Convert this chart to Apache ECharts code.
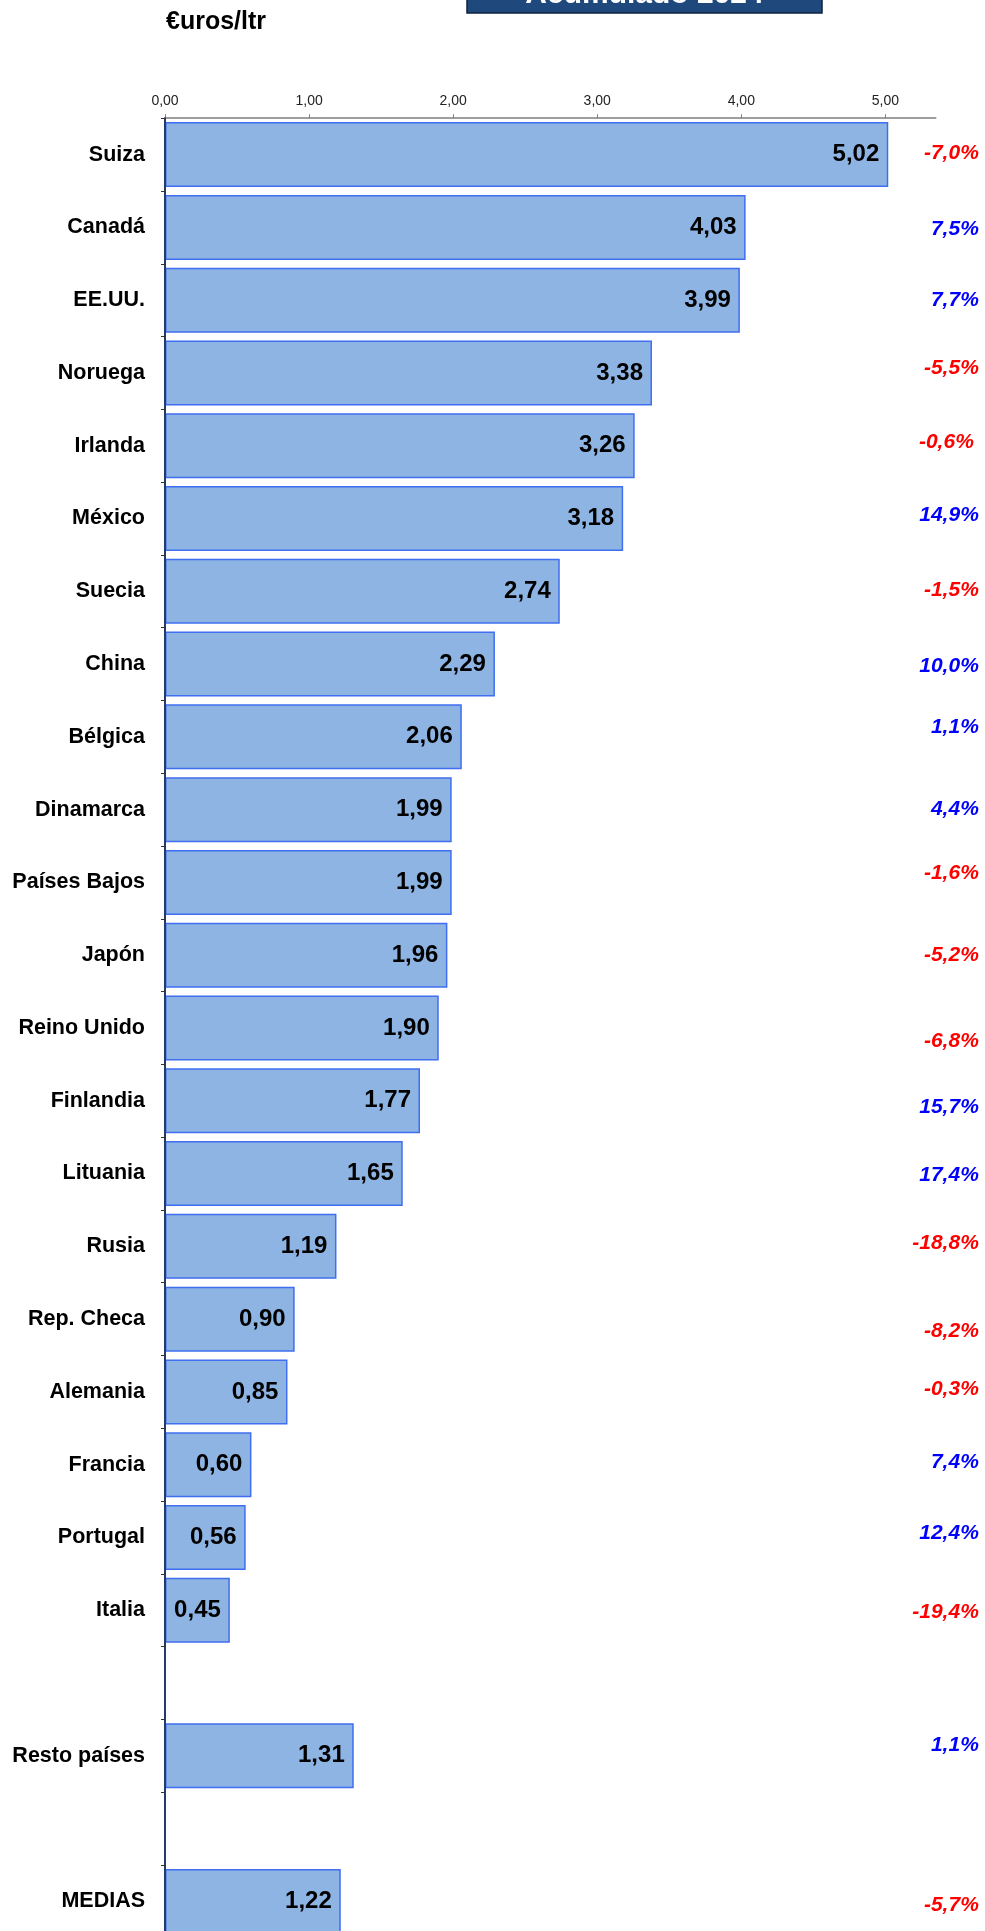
<!DOCTYPE html>
<html>
<head>
<meta charset="utf-8">
<title>Precio medio por país — Acumulado 2024</title>
<script src="https://cdn.jsdelivr.net/npm/echarts@6/dist/echarts.min.js"></script>
<style>
  html, body { margin: 0; padding: 0; background: #ffffff; }
  #chart { width: 985px; height: 1931px; }
</style>
</head>
<body>
<div id="chart"></div>
<script>
// ---- Data ----
const countries = ['Suiza', 'Canadá', 'EE.UU.', 'Noruega', 'Irlanda', 'México', 'Suecia', 'China',
  'Bélgica', 'Dinamarca', 'Países Bajos', 'Japón', 'Reino Unido', 'Finlandia', 'Lituania', 'Rusia',
  'Rep. Checa', 'Alemania', 'Francia', 'Portugal', 'Italia'];
const prices = [5.02, 4.03, 3.99, 3.38, 3.26, 3.18, 2.74, 2.29, 2.06, 1.99, 1.99, 1.96, 1.90, 1.77,
  1.65, 1.19, 0.90, 0.85, 0.60, 0.56, 0.45];
const changes = [-7.0, 7.5, 7.7, -5.5, -0.6, 14.9, -1.5, 10.0, 1.1, 4.4, -1.6, -5.2, -6.8, 15.7,
  17.4, -18.8, -8.2, -0.3, 7.4, 12.4, -19.4];

const restName = 'Resto países';
const restPrice = 1.31;
const restChange = 1.1;

const avgName = 'MEDIAS';
const avgPrice = 1.22;
const avgChange = -5.7;

const tickValues = [0, 1, 2, 3, 4, 5];
const unitLabel = '€uros/ltr';
const titleText = 'Acumulado 2024';

// ---- Layout / style ----
const FONT = '"Liberation Sans", Arial, Helvetica, sans-serif';
const xMax = 5.35;
// small per-row nudges [dx, dy] of the change labels, in the same order as the rows drawn
const pctNudge = [[0, -1], [0, 2], [0, 0], [0, -5], [-5, -4], [0, -3.5], [0, -0.6], [0, 2.6],
  [0, -10], [0, 0], [0, -9.5], [0, 0], [0, 13.5], [0, 6.5], [0, 1.4], [0, -3], [0, 12.5],
  [0, -3], [0, -3], [0, -4.5], [0, 1.5], [0, -11], [0, 3.5]];

// Category list: countries, a spacer, the rest, another spacer, the average
const categories = countries.concat([' ', restName, '  ', avgName]);
const barValues = prices.concat([null, restPrice, null, avgPrice]);

// Change labels: [change, category index]
const changeRows = changes.map((c, i) => [c, i]);
changeRows.push([restChange, countries.length + 1]);
changeRows.push([avgChange, countries.length + 3]);

const fmt2 = v => v.toFixed(2).replace('.', ',');
const fmtPct = v => v.toFixed(1).replace('.', ',') + '%';

const chart = echarts.init(document.getElementById('chart'), null, { renderer: 'canvas' });

chart.setOption({
  backgroundColor: '#ffffff',
  animation: false,
  textStyle: { fontFamily: FONT },
  // the last row runs past the bottom edge of the page
  grid: {
    left: 165, top: 118.2, width: 770.8, height: 1819.6,
    containLabel: false, outerBoundsMode: 'none'
  },
  xAxis: {
    type: 'value',
    position: 'top',
    min: 0,
    max: xMax,
    interval: 1,
    axisLine: { show: true, lineStyle: { color: '#7f7f7f', width: 1.5 } },
    axisTick: { show: true, length: 4, lineStyle: { color: '#7f7f7f', width: 1 }, customValues: tickValues },
    axisLabel: {
      customValues: tickValues,
      formatter: v => fmt2(v),
      color: '#222222',
      fontSize: 14,
      fontFamily: FONT,
      margin: 10
    },
    splitLine: { show: false }
  },
  yAxis: {
    type: 'category',
    inverse: true,
    data: categories,
    z: 5,
    axisLine: { show: true, lineStyle: { color: '#243a6a', width: 2 } },
    axisTick: { show: true, alignWithLabel: false, length: 4, lineStyle: { color: '#333333', width: 1 } },
    axisLabel: {
      color: '#000000',
      fontSize: 21.5,
      fontWeight: 'bold',
      fontFamily: FONT,
      margin: 20
    },
    splitLine: { show: false }
  },
  series: [
    {
      type: 'bar',
      data: barValues,
      barWidth: 65,
      itemStyle: { color: '#8eb4e3', borderColor: '#3f6ef0', borderWidth: 1.5 },
      label: {
        show: true,
        position: 'insideRight',
        distance: 9,
        formatter: p => fmt2(p.value),
        color: '#000000',
        fontSize: 24,
        fontWeight: 'bold',
        fontFamily: FONT
      }
    },
    {
      type: 'custom',
      clip: false,
      data: changeRows,
      encode: { x: 0, y: 1 },
      renderItem: (params, api) => {
        const change = api.value(0);
        const idx = api.value(1);
        const center = api.coord([0, idx]);
        const cs = params.coordSys;
        const nudge = pctNudge[params.dataIndex] || [0, 0];
        return {
          type: 'text',
          x: cs.x + cs.width + 43 + nudge[0],
          y: center[1] + nudge[1],
          style: {
            text: fmtPct(change),
            fill: change < 0 ? '#ff0000' : '#0000ff',
            fontSize: 21,
            fontWeight: 'bold',
            fontStyle: 'italic',
            fontFamily: FONT,
            align: 'right',
            verticalAlign: 'middle'
          }
        };
      }
    }
  ],
  graphic: [
    {
      type: 'rect',
      shape: { x: 467, y: -30, width: 355, height: 43 },
      style: { fill: '#1f497d', stroke: '#10223d', lineWidth: 1.5 },
      z: 10
    },
    {
      type: 'text',
      x: 644.5,
      y: -5,
      style: {
        text: titleText,
        fill: '#ffffff',
        fontSize: 30,
        fontWeight: 'bold',
        fontFamily: FONT,
        align: 'center',
        verticalAlign: 'middle'
      },
      z: 11
    },
    {
      type: 'text',
      x: 166,
      y: 22,
      style: {
        text: unitLabel,
        fill: '#000000',
        fontSize: 25,
        fontWeight: 'bold',
        fontFamily: FONT,
        align: 'left',
        verticalAlign: 'middle'
      },
      z: 10
    }
  ]
});
</script>
</body>
</html>
